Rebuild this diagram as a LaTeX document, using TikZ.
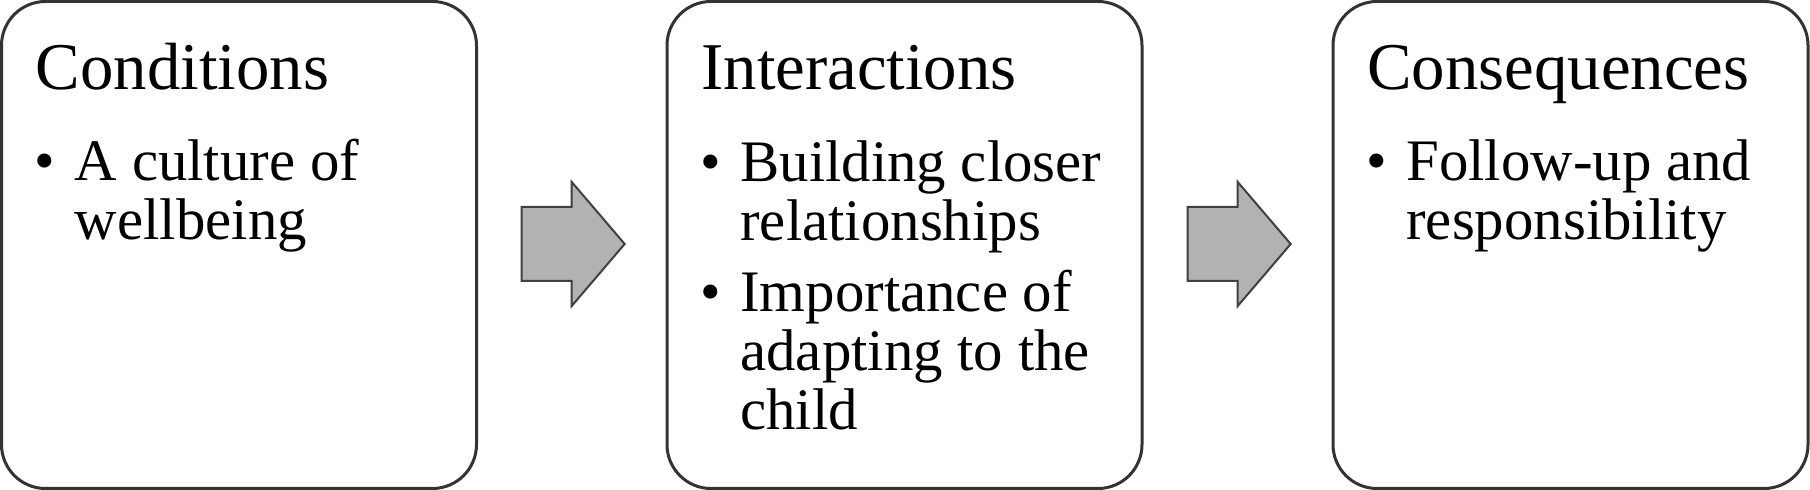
\documentclass[tikz,border=0pt]{standalone}
\usepackage{fontspec}
\setmainfont{Liberation Serif}
\usetikzlibrary{calc, shapes.arrows}
\newcommand{\stack}[1]{\begin{tabular}[t]{@{}l@{}}#1\end{tabular}}
\tikzset{
    stage/.style={draw=black!80, line width=1.5pt, rounded corners=22pt, inner sep=0pt, outer sep=0pt,
        minimum width=237.5pt, minimum height=243.5pt, anchor=north west},
    heading/.style={anchor=base west, inner sep=0pt, font=\fontsize{33.4}{33.4}\selectfont},
    dot/.style={anchor=base west, inner sep=0pt, font=\fontsize{29.4}{29.5}\selectfont},
    item/.style={anchor=base west, inner sep=0pt, font=\fontsize{29.4}{29.5}\selectfont},
    flow/.style={shape=single arrow, draw=black!75, line width=1pt, fill=black!30, inner xsep=0pt, inner ysep=18pt,
        minimum width=61pt, minimum height=51.5pt, single arrow head extend=12.5pt, single arrow tip angle=99,
        anchor=tip}
}
\begin{document}
\begin{tikzpicture}[x=0.5pt, y=-0.5pt]
    \useasboundingbox (0,0) rectangle (1810,490);
    \node[stage] (cond) at (1.5, 1.5) {};
    \node[stage] (inter) at (667, 1.5) {};
    \node[stage] (cons) at (1333, 1.5) {};

    \node[heading] (condtitle) at ($(cond.north west)+(34,88.5)$) {Conditions};
    \node[dot] (conddot) at ($(cond.north west)+(33,179.5)$) {\textbullet};
    \node[item] (conditem) at ($(cond.north west)+(73,179.5)$) {\stack{A culture of\\wellbeing}};

    \node[heading] (intertitle) at ($(inter.north west)+(34,88.5)$) {Interactions};
    \node[dot] (interdota) at ($(inter.north west)+(33,180.5)$) {\textbullet};
    \node[item] (interitema) at ($(inter.north west)+(73,180.5)$) {\stack{Building closer\\relationships}};
    \node[dot] (interdotb) at ($(inter.north west)+(33,310.5)$) {\textbullet};
    \node[item] (interitemb) at ($(inter.north west)+(73,310.5)$) {\stack{Importance of\\adapting to the\\child}};

    \node[heading] (constitle) at ($(cons.north west)+(34,88.5)$) {Consequences};
    \node[dot] (consdot) at ($(cons.north west)+(33,179.5)$) {\textbullet};
    \node[item] (consitem) at ($(cons.north west)+(73,179.5)$) {\stack{Follow-up and\\responsibility}};

    \node[flow] (step1) at ($(inter.west)+(-41,-1)$) {};
    \node[flow] (step2) at ($(cons.west)+(-41,-1)$) {};
\end{tikzpicture}
\end{document}
